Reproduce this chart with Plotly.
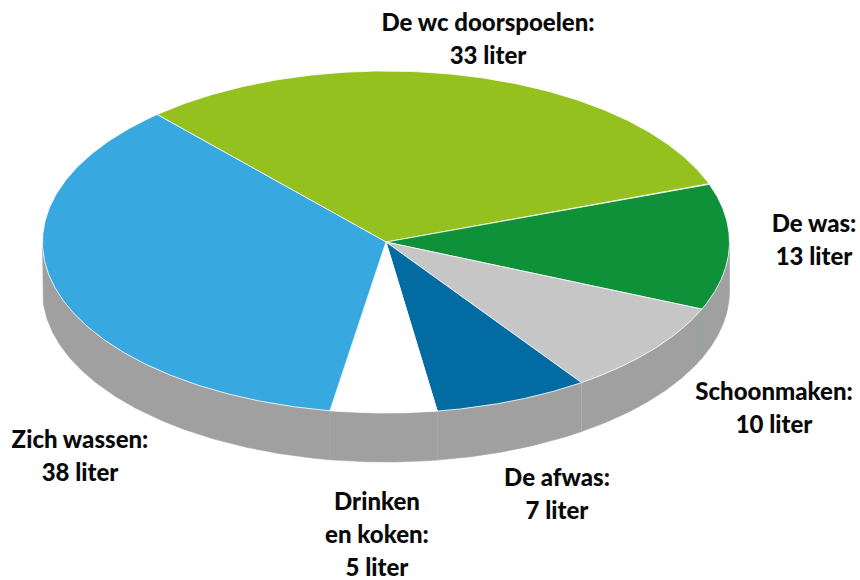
import numpy as np
import plotly.graph_objects as go

# Data
categories = ["De wc doorspoelen", "De was", "Schoonmaken", "De afwas", "Drinken en koken", "Zich wassen"]
# Unrounded slice sizes; the labels show them rounded
liters = [33.0, 12.7, 9.5, 7.7, 5.3, 38.0]
colors = ["#95C11F", "#0E9138", "#C6C6C6", "#016BA2", "#FFFFFF", "#38A8E0"]
label_lines = [
    ["De wc doorspoelen:", "33 liter"],
    ["De was:", "13 liter"],
    ["Schoonmaken:", "10 liter"],
    ["De afwas:", "7 liter"],
    ["Drinken", "en koken:", "5 liter"],
    ["Zich wassen:", "38 liter"],
]

# Geometry / style (pixel-like axis units)
CX, CY, RX, RY, DEPTH = 386.0, 242.0, 343.5, 171.0, 49.0
START = 131.8
WALL = "#A0A0A0"
seam_colors = ["#A0A0A0", "#8FA896", "#B0B0B0", "#ABABAB", "#A8A8A8", "#A0A0A0"]
label_x = [488, 814, 774, 557, 377, 80]
label_y0 = [25, 226, 394, 480, 504, 442]
LINE_STEP = 32.8


def rim(t, dy=0.0):
    r = np.radians(t)
    return CX + RX * np.cos(r), CY - RY * np.sin(r) + dy


fig = go.Figure()
total = sum(liters)
edges = START - np.cumsum([0] + liters) * 360.0 / total

# Side walls: the part of every slice's rim that faces the viewer (angles in 180..360)
for i, v in enumerate(liters):
    a, b = edges[i], edges[i + 1]  # a > b, clockwise
    for k in (-360, 0, 360):
        lo, hi = max(b + k, -180), min(a + k, 0)
        if hi > lo:
            t = np.linspace(hi, lo, 120)
            x1, y1 = rim(t)
            x2, y2 = rim(t[::-1], DEPTH)
            fig.add_trace(go.Scatter(
                x=np.r_[x1, x2, x1[0]], y=np.r_[y1, y2, y1[0]],
                mode="lines", fill="toself", fillcolor=WALL,
                line=dict(color=WALL, width=0.6), hoverinfo="skip", showlegend=False))

# Seams on the wall, at the end of each slice
for i, t in enumerate(edges[1:]):
    tt = ((t + 180) % 360) - 180
    if -180 < tt < 0:
        x0, y0 = rim(tt)
        x1, y1 = rim(tt, DEPTH)
        fig.add_trace(go.Scatter(x=[x0, x1], y=[y0, y1], mode="lines",
                                 line=dict(color=seam_colors[i], width=1),
                                 hoverinfo="skip", showlegend=False))

# Top face
for i, v in enumerate(liters):
    t = np.linspace(edges[i], edges[i + 1], 200)
    x, y = rim(t)
    fig.add_trace(go.Scatter(
        x=np.r_[CX, x, CX], y=np.r_[CY, y, CY], mode="lines", fill="toself",
        fillcolor=colors[i], line=dict(color="#FFFFFF", width=0.8),
        name=categories[i], text=f"{categories[i]}: {round(v)} liter",
        hoverinfo="text", showlegend=False))

# Labels
for i, lines in enumerate(label_lines):
    fig.add_trace(go.Scatter(
        x=[label_x[i]] * len(lines),
        y=[label_y0[i] + j * LINE_STEP for j in range(len(lines))],
        mode="text", text=lines, textposition="middle center",
        textfont=dict(family="Lato, 'Open Sans', sans-serif", size=24, color="#0A0A0A", weight=900),
        hoverinfo="skip", showlegend=False))

fig.update_layout(
    width=860, height=580, margin=dict(l=0, r=0, t=0, b=0),
    paper_bgcolor="white", plot_bgcolor="white",
    xaxis=dict(range=[0, 860], visible=False, fixedrange=True),
    yaxis=dict(range=[580, 0], visible=False, fixedrange=True),
)
fig.write_html("out.html", config=dict(displayModeBar=False),
               post_script="document.body.style.margin='0';document.body.style.overflow='hidden';")
